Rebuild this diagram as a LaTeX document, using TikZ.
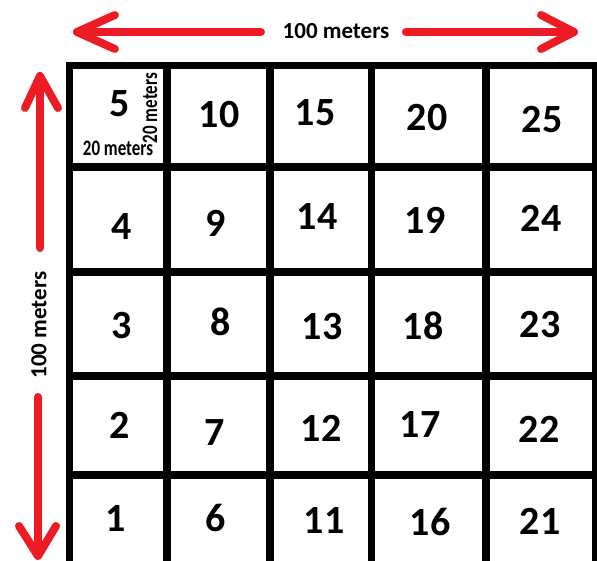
\documentclass[tikz,border=0pt]{standalone}
\usepackage{fontspec}
\setmainfont{Carlito}
\definecolor{arrowred}{HTML}{ED1C24}
\begin{document}
\begin{tikzpicture}[x=1pt,y=-1pt,
  gridline/.style={line width=7.5pt, black, line cap=rect},
  redline/.style={line width=8pt, arrowred, line cap=round, line join=round},
  num/.style={font=\fontsize{40}{40}\selectfont\bfseries, inner sep=0pt},
  lbl/.style={font=\fontsize{23}{23}\selectfont\bfseries, inner sep=0pt},
  smalllbl/.style={font=\fontsize{17}{17}\selectfont\bfseries, inner sep=0pt}]
\useasboundingbox (0,0) rectangle (597,561);
\fill[white] (0,0) rectangle (597,561);
\begin{scope}
\clip (0,0) rectangle (597,561);
\foreach \x in {69.5,167,270,371.5,486,596}
  \draw[gridline] (\x,65.5) -- (\x,565);
\foreach \y in {65.5,167,272,376,475,565}
  \draw[gridline] (69.5,\y) -- (596,\y);
\end{scope}
% cell numbers
\node[num] (n5) at (120,104) {5};
\node[num] (n10) at (219,115) {10};
\node[num] (n15) at (315,113) {15};
\node[num] (n20) at (427,118) {20};
\node[num] (n25) at (542,120) {25};
\node[num] (n4) at (122,227) {4};
\node[num] (n9) at (216,223) {9};
\node[num] (n14) at (317,217) {14};
\node[num] (n19) at (425,220) {19};
\node[num] (n24) at (541,218) {24};
\node[num] (n3) at (122,326) {3};
\node[num] (n8) at (221,322) {8};
\node[num] (n13) at (322,327) {13};
\node[num] (n18) at (423,326) {18};
\node[num] (n23) at (540,325) {23};
\node[num] (n2) at (120,425) {2};
\node[num] (n7) at (215,433) {7};
\node[num] (n12) at (321,428) {12};
\node[num] (n17) at (420,425) {17};
\node[num] (n22) at (539,429) {22};
\node[num] (n1) at (116,519) {1};
\node[num] (n6) at (216,518) {6};
\node[num] (n11) at (324,521) {11};
\node[num] (n16) at (430,522) {16};
\node[num] (n21) at (540,521) {21};
% small labels in cell 5
\node[smalllbl] (sw) at (118,148) {\scalebox{1}[1.3]{20 meters}};
\node[smalllbl, rotate=90] (sh) at (150,108) {\scalebox{1}[1.3]{20 meters}};
% dimension labels
\node[lbl] (htext) at (336,31) {100 meters};
\node[lbl, rotate=90] (vtext) at (39,325) {100 meters};
% horizontal arrow
\coordinate (hl) at (77,32);
\coordinate (hla) at (115,15);
\coordinate (hlb) at (115,49);
\coordinate (hle) at (261,32);
\coordinate (hr) at (574,32);
\coordinate (hra) at (541,15);
\coordinate (hrb) at (541,49);
\coordinate (hrs) at (406,32);
\draw[redline] (hle) -- (hl);
\draw[redline] (hla) -- (hl) -- (hlb);
\draw[redline] (hrs) -- (hr);
\draw[redline] (hra) -- (hr) -- (hrb);
% vertical arrow
\coordinate (vt) at (40,76);
\coordinate (vta) at (25,108);
\coordinate (vtb) at (58,108);
\coordinate (vte) at (40,248);
\coordinate (vb) at (38,556);
\coordinate (vba) at (19,526);
\coordinate (vbb) at (56,526);
\coordinate (vbs) at (38,397);
\draw[redline] (vte) -- (vt);
\draw[redline] (vta) -- (vt) -- (vtb);
\draw[redline] (vbs) -- (vb);
\draw[redline] (vba) -- (vb) -- (vbb);
\end{tikzpicture}
\end{document}
